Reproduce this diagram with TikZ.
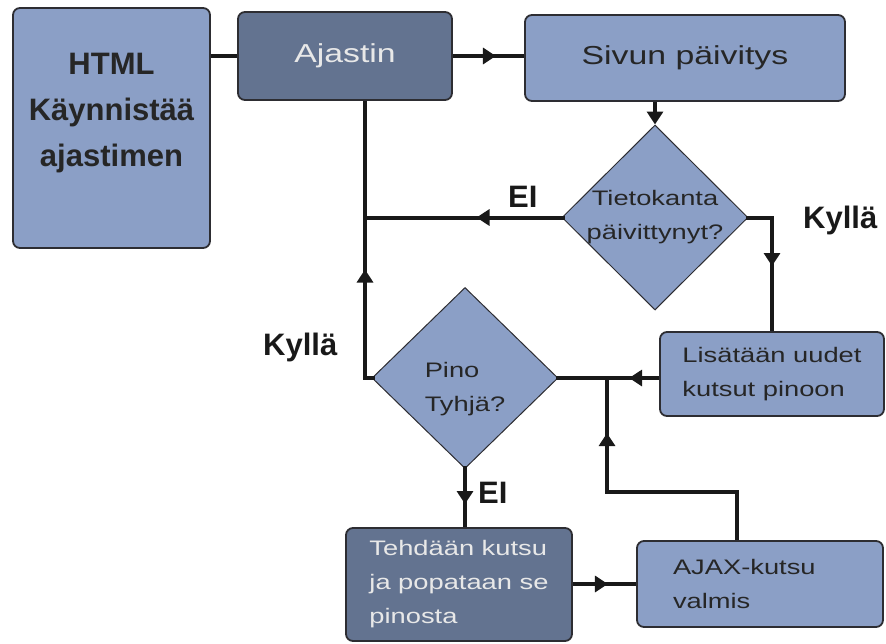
\documentclass[tikz,border=0pt]{standalone}
\usepackage{fontspec}
\setmainfont{Liberation Sans}
\newfontfamily\widefont[FakeStretch=1.3]{Liberation Sans}
\usepackage{tikz}
\usetikzlibrary{shapes.geometric}
\usetikzlibrary{arrows.meta}
\usetikzlibrary{decorations.markings}
\definecolor{paleblue}{RGB}{139,159,198}
\definecolor{slateblue}{RGB}{99,115,144}
\definecolor{boxline}{RGB}{45,45,50}
\definecolor{lighttext}{RGB}{232,232,232}
\definecolor{darktext}{RGB}{38,38,38}

\tikzset{
	flowtip/.tip={Triangle[length=13pt,width=16pt]},
	box/.style={draw=boxline, line width=1.8pt, rounded corners=7pt, inner sep=0pt},
	lightbox/.style={box, fill=paleblue, text=darktext},
	darkbox/.style={box, fill=slateblue, text=lighttext},
	decision/.style={diamond, draw=boxline, fill=paleblue, line width=1pt, inner sep=0pt},
	bigtext/.style={font=\widefont\fontsize{26}{31}\selectfont},
	smalltext/.style={font=\widefont\fontsize{21}{34}\selectfont},
	answer/.style={font=\bfseries\fontsize{31}{31}\selectfont, text=black!90, inner sep=0pt, anchor=base west},
	link/.style={line width=4pt, draw=black!90},
	midarrow/.style={postaction={decorate}, decoration={markings, mark=at position #1 with {\arrow{flowtip}}}},
}

\begin{document}
\begin{tikzpicture}[x=1pt,y=-1pt]
	\useasboundingbox (0,0) rectangle (886,643);

	% boxes
	\node[lightbox, minimum width=197pt, minimum height=240pt] (html) at (111.5,128) {};
	\node[font=\bfseries\fontsize{31}{46}\selectfont, text=darktext, align=center] (htmltxt) at ([yshift=15pt]html.center) {HTML\\Käynnistää\\ajastimen};
	\node[darkbox, bigtext, minimum width=214pt, minimum height=88pt] (ajastin) at (345,56) {Ajastin};
	\node[lightbox, bigtext, minimum width=320pt, minimum height=86pt] (sivun) at (685,58) {Sivun päivitys};
	\node[lightbox, smalltext, align=left, minimum width=224pt, minimum height=84pt] (lisaa) at (772,374) {Lisätään uudet\\kutsut pinoon};
	\node[darkbox, smalltext, align=left, minimum width=226pt, minimum height=113pt] (teh) at (459,584.5) {Tehdään kutsu\\ja popataan se\\pinosta};
	\node[lightbox, smalltext, align=left, inner xsep=36pt, text width=174pt, minimum height=86pt] (ajax) at (760,584) {AJAX-kutsu\\valmis};

	% decisions
	\node[decision, minimum width=186pt, minimum height=185pt] (dbase) at (655,217.5) {};
	\node[smalltext, text=darktext, align=center] (dbasetxt) at (dbase.center) {Tietokanta\\päivittynyt?};
	\node[decision, minimum width=186pt, minimum height=181pt] (pino) at (465,378) {};
	\node[smalltext, text=darktext, align=left] (pinotxt) at ([yshift=-11pt]pino.center) {Pino\\Tyhjä?};

	% answers
	\node[answer] (ei1) at (508,207) {EI};
	\node[answer] (kylla1) at (803,228) {Kyllä};
	\node[answer] (kylla2) at (263,355) {Kyllä};
	\node[answer] (ei2) at (478,503) {EI};

	% connectors
	\coordinate (vtop) at ([xshift=20pt]ajastin.south);
	\coordinate (ajaxtop) at ([xshift=-23pt]ajax.north);
	\coordinate (bend) at (607,492);
	\draw[link] (ajastin.west -| html.east) -- (ajastin.west);
	\draw[link, midarrow=43pt] (ajastin.east) -- (ajastin.east -| sivun.west);
	\draw[link, -flowtip] (dbase.north |- sivun.south) -- (dbase.north);
	\draw[link, shorten <=-3pt, midarrow=85pt] (dbase.west) -- (dbase.west -| vtop);
	\draw[link, shorten <=-3pt, midarrow=115pt] (pino.west) -- (pino.west -| vtop) -- (vtop);
	\draw[link, shorten <=-3pt, midarrow=72pt] (dbase.east) -- (dbase.east -| lisaa.north) -- (lisaa.north);
	\draw[link, shorten >=-3pt, midarrow=30pt] (lisaa.west |- pino.east) -- (pino.east);
	\draw[link, shorten <=-3pt, midarrow=35pt] (pino.south) -- (pino.south |- teh.north);
	\draw[link, midarrow=35pt] (teh.east |- ajax.west) -- (ajax.west);
	\draw[link, midarrow=237pt] (ajaxtop) -- (ajaxtop |- bend) -- (bend) -- (bend |- pino.east);
\end{tikzpicture}
\end{document}
